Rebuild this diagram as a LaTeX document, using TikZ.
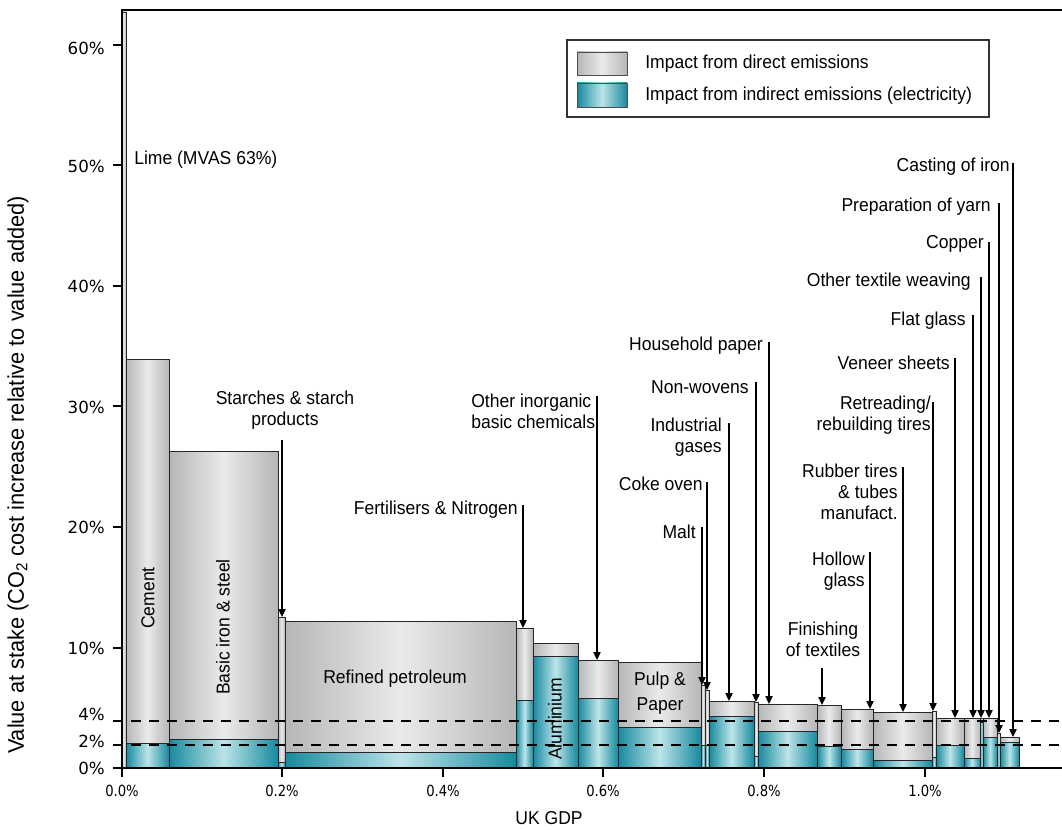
\documentclass[tikz,border=0pt]{standalone}
\usepackage{fontspec}
\setmainfont{Liberation Sans}[FakeStretch=0.94]
\newfontfamily\tickfont{DejaVu Sans}[FakeStretch=0.86]
\newfontfamily\ytickfont{DejaVu Sans}
\newfontfamily\titlefont{Liberation Sans}[FakeStretch=0.96]
\usetikzlibrary{arrows.meta}
\definecolor{greyE}{HTML}{B5B6B8}
\definecolor{greyM}{HTML}{E9EAEB}
\definecolor{tealE}{HTML}{168A9E}
\definecolor{tealM}{HTML}{BDE4E9}
\newcommand\lblfont{\fontsize{14}{15.75}\selectfont}
\newcommand\chartbar[4]{%
  \shade[left color=greyE,right color=greyE,middle color=greyM] (#1,#3) rectangle (#2,768);
  \ifdim #4pt<768pt
    \shade[left color=tealE,right color=tealE,middle color=tealM] (#1,#4) rectangle (#2,768);
    \draw[barline] (#1,#4) -- (#2,#4);
  \fi
  \draw[barline] (#1,#3) rectangle (#2,768);}
\newcommand\pointer[4]{%
  \coordinate (#1S) at (#2,#3);
  \coordinate (#1T) at (#2,#4);
  \draw[arr] (#1S) -- (#1T);}
\begin{document}
\begin{tikzpicture}[x=0.75pt,y=-0.75pt,
  lbl/.style={font=\lblfont, inner sep=0pt},
  ytick/.style={font=\ytickfont\fontsize{12.5}{14}\selectfont, inner sep=0pt, anchor=east},
  xtick/.style={font=\tickfont\fontsize{11.5}{13}\selectfont, inner sep=0pt},
  arr/.style={line width=0.9pt, -{Triangle[length=6pt,width=5.5pt]}},
  barline/.style={draw=black!85, line width=0.6pt},
  axisline/.style={line width=0.9pt},
  dashline/.style={line width=1.9pt, dash pattern=on 7.5pt off 6pt}]
\useasboundingbox (0,0) rectangle (1062,830);
\fill[white] (0,0) rectangle (1062,830);

% bars
\chartbar{121}{126}{12}{768}
\chartbar{126}{169}{359}{743}
\chartbar{169}{278}{451}{739}
\chartbar{278}{285}{617}{762}
\chartbar{285}{516}{621}{752}
\chartbar{516}{533}{628}{700}
\chartbar{533}{578}{643}{656}
\chartbar{578}{618}{660}{698}
\chartbar{618}{701}{662}{727}
\chartbar{701}{705}{685}{745}
\chartbar{705}{709}{690}{745}
\chartbar{709}{754}{701}{716}
\chartbar{754}{758}{702}{756}
\chartbar{758}{817}{704}{731}
\chartbar{817}{841}{705}{746}
\chartbar{841}{873}{709}{749}
\chartbar{873}{932}{712}{760}
\chartbar{932}{936}{711}{757}
\chartbar{936}{964}{718}{745}
\chartbar{964}{980}{718}{758}
\chartbar{980}{983}{718}{722}
\chartbar{983}{997}{718}{737}
\chartbar{997}{1000}{733}{745}
\chartbar{1000}{1019}{737}{742}

% labels inside bars
\node[lbl, rotate=90] (cement) at (148,598) {Cement};
\node[lbl, rotate=90] (iron) at (223,627) {Basic iron \& steel};
\node[lbl] (petrol) at (395,679) {Refined petroleum};
\node[lbl, rotate=90] (alu) at (555,719) {Aluminium};
\node[lbl, align=center] (pulp) at (660,693) {Pulp \&\\[3pt]Paper};

% dashed reference lines
\draw[dashline] (113,721) -- (1062,721);
\draw[dashline] (113,745) -- (1062,745);

% axes
\draw[axisline] (122,768) -- (122,10) -- (1062,10);
\draw[axisline] (122,768) -- (1062,768);
\foreach \yy in {768,648,527,406,286,165,45} \draw[axisline] (113,\yy) -- (122,\yy);
\foreach \xx in {122,282,443,603,764,925} \draw[axisline] (\xx,768) -- (\xx,777);

% y tick labels
\node[ytick] (t60) at (105,48) {60\%};
\node[ytick] (t50) at (105,166) {50\%};
\node[ytick] (t40) at (105,286) {40\%};
\node[ytick] (t30) at (105,407) {30\%};
\node[ytick] (t20) at (105,527) {20\%};
\node[ytick] (t10) at (105,648) {10\%};
\node[ytick] (t4) at (105,714) {4\%};
\node[ytick] (t2) at (105,741) {2\%};
\node[ytick] (t0) at (105,768) {0\%};

% x tick labels
\node[xtick] (x0) at (122,791) {0.0\%};
\node[xtick] (x2) at (282,791) {0.2\%};
\node[xtick] (x4) at (443,791) {0.4\%};
\node[xtick] (x6) at (603,791) {0.6\%};
\node[xtick] (x8) at (764,791) {0.8\%};
\node[xtick] (x10) at (925,791) {1.0\%};

% axis titles
\node[lbl] (xtitle) at (549,818) {UK GDP};
\node[inner sep=0pt, rotate=90, font=\titlefont\fontsize{17}{20}\selectfont] (ytitle) at (18,475) {Value at stake (CO\textsubscript{2} cost increase relative to value added)};

% legend
\draw[line width=0.8pt, draw=black!80, fill=white] (567,40) rectangle (989,117);
\shade[draw=black!70, line width=0.6pt, left color=greyE, right color=greyE, middle color=greyM] (577,52) rectangle (627,75);
\shade[draw=black!70, line width=0.6pt, left color=tealE, right color=tealE, middle color=tealM] (577,83) rectangle (627,107);
\node[lbl, anchor=west] (leg1) at (645,64) {Impact from direct emissions};
\node[lbl, anchor=west] (leg2) at (645,96) {Impact from indirect emissions (electricity)};

% outside labels
\node[lbl, anchor=west] (lime) at (134,160) {Lime (MVAS 63\%)};
\node[lbl, align=center] (starch) at (285,410) {Starches \& starch\\products};
\node[lbl, anchor=east] (fert) at (518,510) {Fertilisers \& Nitrogen};
\node[lbl, anchor=west, align=left] (inorg) at (471,411) {Other inorganic\\basic chemicals};
\node[lbl, anchor=east] (house) at (763,346) {Household paper};
\node[lbl, anchor=east] (nonwov) at (749,387) {Non-wovens};
\node[lbl, anchor=east, align=right] (indgas) at (722,437) {Industrial\\gases};
\node[lbl, anchor=east] (coke) at (703,484) {Coke oven};
\node[lbl, anchor=east] (malt) at (696,532) {Malt};
\node[lbl, align=center] (finish) at (823,639) {Finishing\\of textiles};
\node[lbl, anchor=east, align=right] (hollow) at (865,571) {Hollow\\glass};
\node[lbl, anchor=east, align=right] (rubber) at (898,492) {Rubber tires\\\& tubes\\manufact.};
\node[lbl, anchor=east, align=right] (retread) at (931,415) {Retreading/\\rebuilding tires};
\node[lbl, anchor=east] (veneer) at (950,363) {Veneer sheets};
\node[lbl, anchor=east] (flat) at (966,321) {Flat glass};
\node[lbl, anchor=east] (othtex) at (971,282) {Other textile weaving};
\node[lbl, anchor=east] (copper) at (984,244) {Copper};
\node[lbl, anchor=east] (yarn) at (991,207) {Preparation of yarn};
\node[lbl, anchor=east] (casting) at (1010,167) {Casting of iron};

% pointers
\pointer{starch}{282}{440}{617}
\pointer{fert}{523}{505}{628}
\pointer{inorg}{597}{396}{660}
\pointer{malt}{702}{527}{685}
\pointer{coke}{707}{482}{690}
\pointer{indgas}{729}{423}{701}
\pointer{nonwov}{756}{382}{702}
\pointer{house}{769}{342}{704}
\pointer{finish}{822}{668}{705}
\pointer{hollow}{870}{552}{709}
\pointer{rubber}{903}{467}{712}
\pointer{retread}{933}{402}{711}
\pointer{veneer}{955}{358}{718}
\pointer{flat}{973}{315}{718}
\pointer{othtex}{981}{277}{718}
\pointer{copper}{989}{242}{718}
\pointer{yarn}{999}{203}{733}
\pointer{casting}{1013}{163}{737}
\end{tikzpicture}
\end{document}
